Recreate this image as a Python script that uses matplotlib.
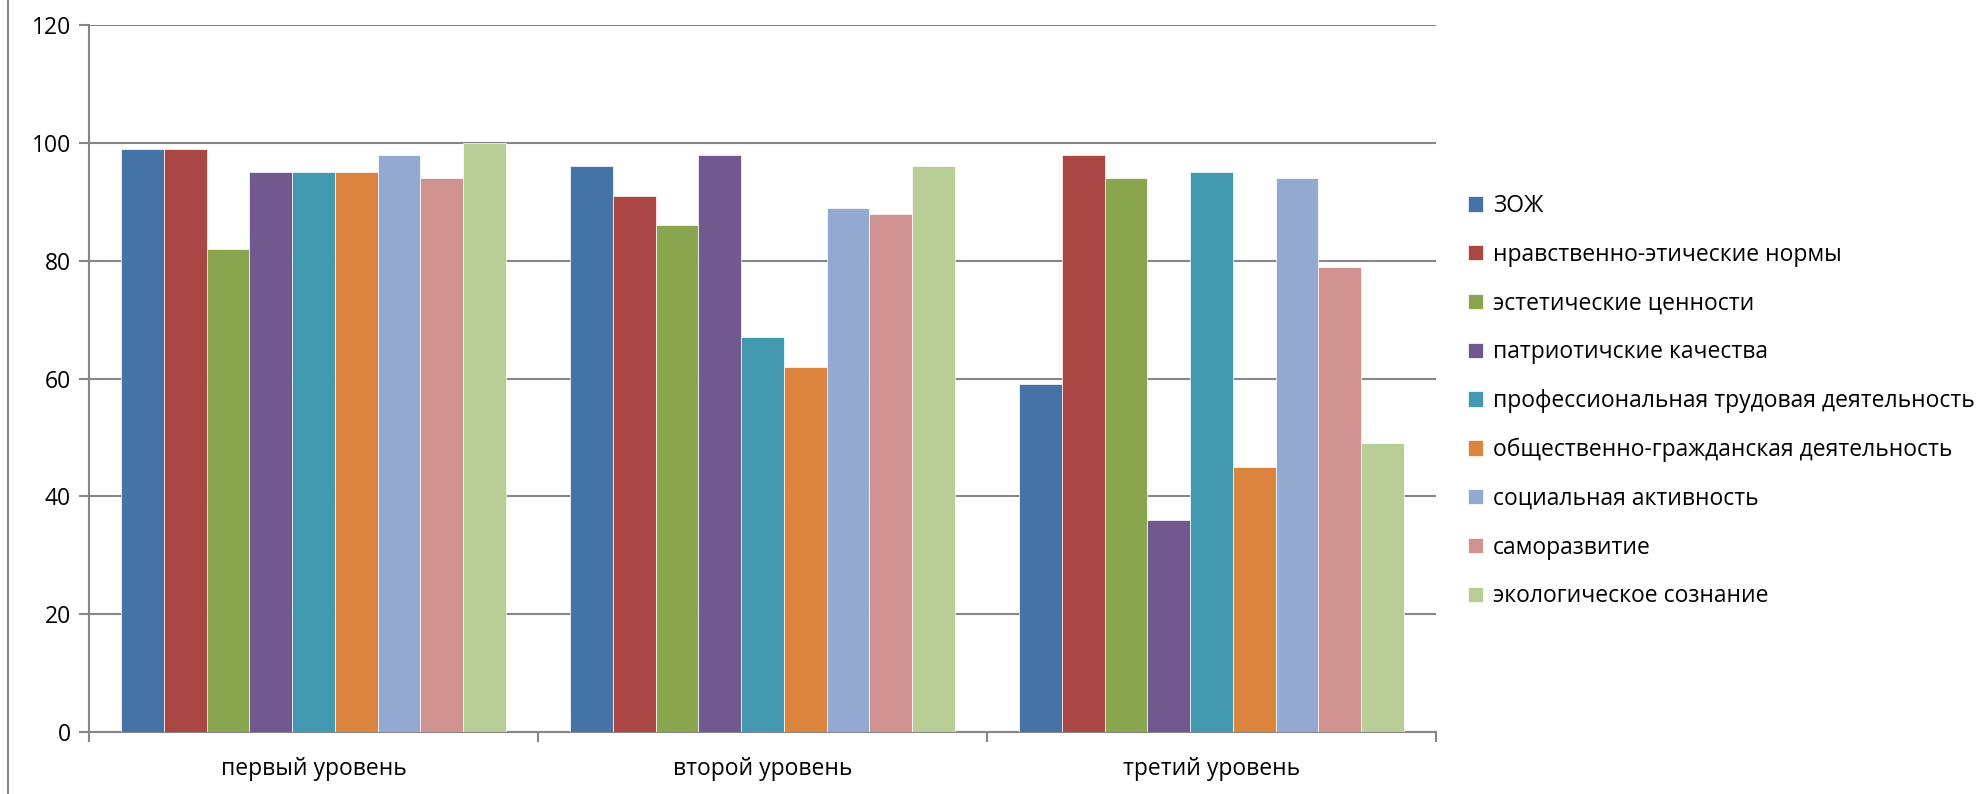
import numpy as np
import matplotlib.pyplot as plt
from matplotlib.lines import Line2D

plt.rcParams['font.family'] = ['Open Sans', 'DejaVu Sans']

levels = ["первый уровень", "второй уровень", "третий уровень"]
series = [
    "ЗОЖ",
    "нравственно-этические нормы",
    "эстетические ценности",
    "патриотичские качества",
    "профессиональная трудовая деятельность",
    "общественно-гражданская деятельность",
    "социальная активность",
    "саморазвитие",
    "экологическое сознание",
]
zozh = [99, 96, 59]
nravst = [99, 91, 98]
estet = [82, 86, 94]
patriot = [95, 98, 36]
prof = [95, 67, 95]
obshch = [95, 62, 45]
soc = [98, 89, 94]
samorazv = [94, 88, 79]
ekolog = [100, 96, 49]
values = [zozh, nravst, estet, patriot, prof, obshch, soc, samorazv, ekolog]
colors = ["#4572A7", "#AA4643", "#89A54E", "#71588F", "#4198AF",
          "#DB843D", "#93A9CF", "#D19392", "#B9CD96"]

fig = plt.figure(figsize=(19.87, 7.94), dpi=100)
ax = fig.add_axes([89 / 1987, 1 - 732 / 794, (1436 - 89) / 1987, (732 - 25) / 794])

n = len(series)
w = 1 / (n + 1.5)
x = np.arange(len(levels))
for i, (name, vals, c) in enumerate(zip(series, values, colors)):
    ax.bar(x + (i - (n - 1) / 2) * w, vals, w, color=c, label=name,
           edgecolor="white", linewidth=0.5, zorder=3)

grid_c = "#868686"
fs = 16.5
ax.set_xlim(-0.5, 2.5)
ax.set_ylim(0, 120)
ax.set_yticks(range(0, 121, 20))
ax.yaxis.grid(True, color=grid_c, linewidth=1.5, zorder=0)
ax.tick_params(axis="y", length=7, width=1.5, color=grid_c, labelsize=fs, pad=6)
ax.set_xticks(x)
ax.set_xticklabels(levels)
ax.set_xticks([-0.5, 0.5, 1.5, 2.5], minor=True)
ax.tick_params(axis="x", which="major", length=0, labelsize=fs, pad=18)
ax.tick_params(axis="x", which="minor", length=7, width=1.5, color=grid_c)
for s in ["top", "right"]:
    ax.spines[s].set_visible(False)
for s in ["left", "bottom"]:
    ax.spines[s].set_color(grid_c)
    ax.spines[s].set_linewidth(1.5)

ax.legend(loc="upper left", bbox_to_anchor=(1468 / 1987, 1 - 194 / 794),
          bbox_transform=fig.transFigure, frameon=False, fontsize=fs,
          handlelength=0.65, handleheight=0.65, handletextpad=0.45,
          labelspacing=1.08, borderpad=0, borderaxespad=0)

fig.add_artist(Line2D([8 / 1987, 8 / 1987], [0, 1], color=grid_c, linewidth=1.5))

fig.savefig("out.png", dpi=100)
